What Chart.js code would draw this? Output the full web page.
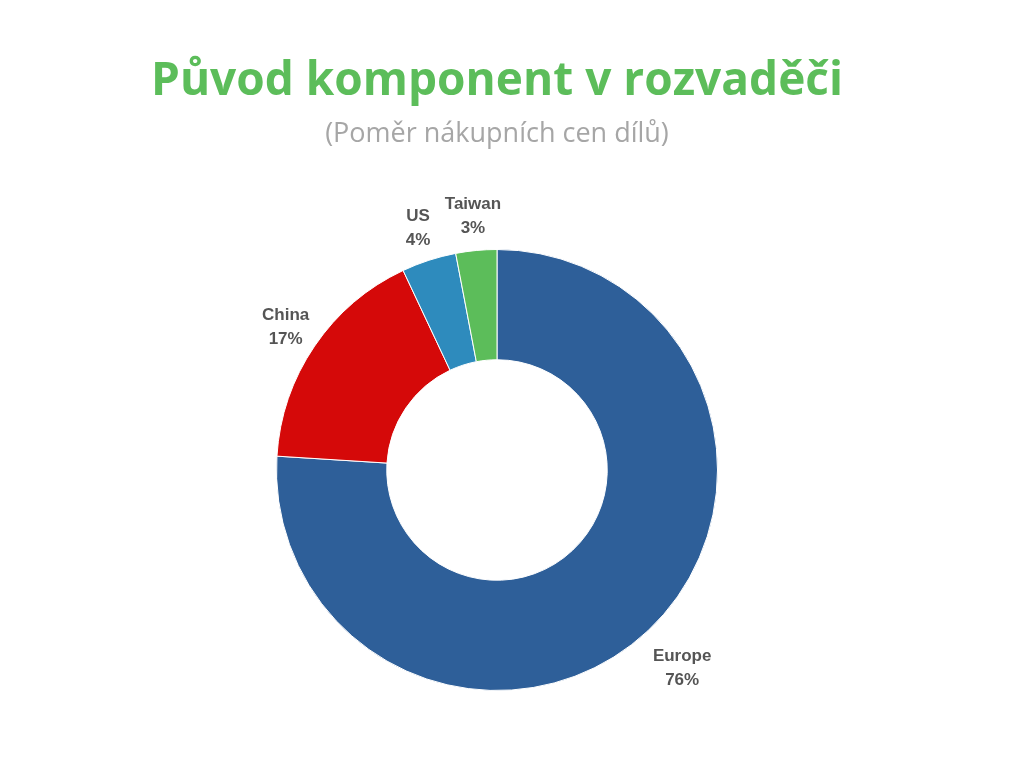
<!DOCTYPE html>
<html><head><meta charset="utf-8">
<script src="https://cdn.jsdelivr.net/npm/chart.js@4/dist/chart.umd.min.js"></script>
<style>
body{margin:0;background:#fff;font-family:"Open Sans",sans-serif}
#wrap{position:relative;width:1024px;height:768px}
canvas{position:absolute;left:0;top:0}
.t{position:absolute;left:0;width:994px;text-align:center}
</style></head><body>
<div id="wrap">
<canvas id="c" width="1024" height="768"></canvas>
<div class="t" style="top:46px;font-size:46px;font-weight:bold;color:#5cbd5a">Původ komponent v rozvaděči</div>
<div class="t" style="top:113px;font-size:27px;color:#a6a6a6">(Poměr nákupních cen dílů)</div>
</div>
<script>
const categories=["Europe","China","US","Taiwan"];
const values=[76,17,4,3];
const colors=["#2e5f99","#d50909","#2e8bbd","#5cbd5a"];
const labelPlugin={id:"lbl",afterDatasetsDraw(chart){
 const ctx=chart.ctx;const meta=chart.getDatasetMeta(0);
 ctx.save();ctx.font="bold 17px 'Liberation Sans', Arial";ctx.fillStyle="#555";ctx.textAlign="center";ctx.textBaseline="middle";
 meta.data.forEach((a,i)=>{
  const mid=(a.startAngle+a.endAngle)/2;const r=a.outerRadius+(i===0?50:35);
  const x=a.x+Math.cos(mid)*r,y=a.y+Math.sin(mid)*r;
  ctx.fillText(categories[i],x,y-11);ctx.fillText(values[i]+"%",x,y+13);
 });ctx.restore();}};
new Chart(document.getElementById("c"),{type:"doughnut",
 data:{labels:categories,datasets:[{data:values,backgroundColor:colors,borderColor:"#fff",borderWidth:1}]},
 options:{responsive:false,animation:false,cutout:"50%",
  layout:{padding:{left:276,right:306,top:249,bottom:77}},
  plugins:{legend:{display:false},tooltip:{enabled:false}}},
 plugins:[labelPlugin]});
</script></body></html>
